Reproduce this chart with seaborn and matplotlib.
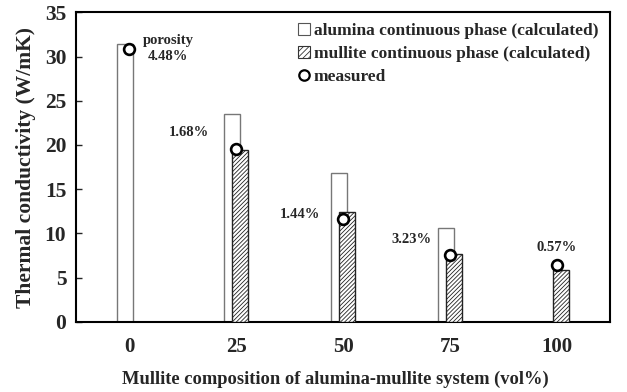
import numpy as np
import pandas as pd
import matplotlib
matplotlib.use("Agg")
import matplotlib.pyplot as plt
import seaborn as sns
from matplotlib.patches import Patch
from matplotlib.lines import Line2D

# ---- data ----
mullite_vol = [0, 25, 50, 75, 100]
alumina_calc = [31.45, 23.55, 16.85, 10.57, np.nan]
mullite_calc = [np.nan, 19.46, 12.44, 7.66, 5.88]
measured = [30.85, 19.58, 11.6, 7.55, 6.41]
porosity_labels = ["porosity\n4.48%", "1.68%", "1.44%", "3.23%", "0.57%"]
tick_labels = ["0", "25", "50", "75", "100"]

# ---- layout / style ----
label_pos = [(9.1, 30.9), (14.1, 21.4), (40.0, 12.1), (65.9, 9.25), (99.9, 8.45)]
offset = 0.93
bar_w = 3.74

sns.set_style("white")
plt.rcParams["font.family"] = ["Liberation Serif", "DejaVu Serif"]
plt.rcParams["font.weight"] = "bold"
plt.rcParams["hatch.linewidth"] = 0.6
plt.rcParams["hatch.color"] = "#555555"

fig = plt.figure(figsize=(6.27, 3.92), dpi=100)
ax = fig.add_axes([0.1212, 0.1793, 0.8517, 0.7893])

df_a = pd.DataFrame({"x": np.array(mullite_vol) - offset, "y": alumina_calc}).dropna()
df_m = pd.DataFrame({"x": np.array(mullite_vol) + offset, "y": mullite_calc}).dropna()
df_p = pd.DataFrame({"x": mullite_vol, "y": measured})

sns.barplot(data=df_a, x="x", y="y", native_scale=True, width=bar_w / 25,
            color="white", edgecolor="#777777", linewidth=1.0,
            errorbar=None, ax=ax, zorder=2)
sns.barplot(data=df_m, x="x", y="y", native_scale=True, width=bar_w / 25,
            color="white", edgecolor="#222222", linewidth=1.0, hatch="////////",
            errorbar=None, ax=ax, zorder=3)
for p in ax.patches:
    p.set_facecolor("white")
sns.scatterplot(data=df_p, x="x", y="y", marker="o", s=60, color="white",
                edgecolor="black", linewidth=1.9, ax=ax, zorder=5)

for (tx, ty), lab in zip(label_pos, porosity_labels):
    ax.text(tx, ty, lab, ha="center", va="center", fontsize=10.5,
            fontweight="bold", linespacing=1.3)

ax.set_xlim(-12.4, 112.4)
ax.set_ylim(0, 35)
ax.set_xticks(mullite_vol)
ax.set_xticklabels(tick_labels)
ax.set_yticks(np.arange(0, 36, 5))
ax.tick_params(axis="x", length=0, pad=11, labelsize=15)
ax.tick_params(axis="y", direction="in", length=4, width=1, left=True,
               pad=7, labelsize=15.5)
for s in ax.spines.values():
    s.set_color("black")
    s.set_linewidth(1.5)
    s.set_visible(True)

ax.set_xlabel("Mullite composition of alumina-mullite system (vol%)",
              fontsize=13.3, fontweight="bold", labelpad=9)
ax.xaxis.set_label_coords(0.486, -0.157)
ax.set_ylabel("Thermal conductivity (W/mK)", fontsize=15.5,
              fontweight="bold", labelpad=6)

handles = [
    Patch(facecolor="white", edgecolor="#555555", linewidth=0.8),
    Patch(facecolor="white", edgecolor="#333333", hatch="//////", linewidth=0.8),
    Line2D([], [], marker="o", linestyle="none", markerfacecolor="white",
           markeredgecolor="black", markeredgewidth=1.6, markersize=7.5),
]
labels = ["alumina continuous phase (calculated)",
          "mullite continuous phase (calculated)",
          "measured"]
leg = ax.legend(handles, labels, loc="upper left", bbox_to_anchor=(0.396, 1.0),
                frameon=False, fontsize=12.5, handlelength=0.7,
                handleheight=0.7, handletextpad=0.2, labelspacing=0.4,
                borderaxespad=0.2)
for t in leg.get_texts():
    t.set_fontweight("bold")

fig.savefig("out.png", dpi=100)
